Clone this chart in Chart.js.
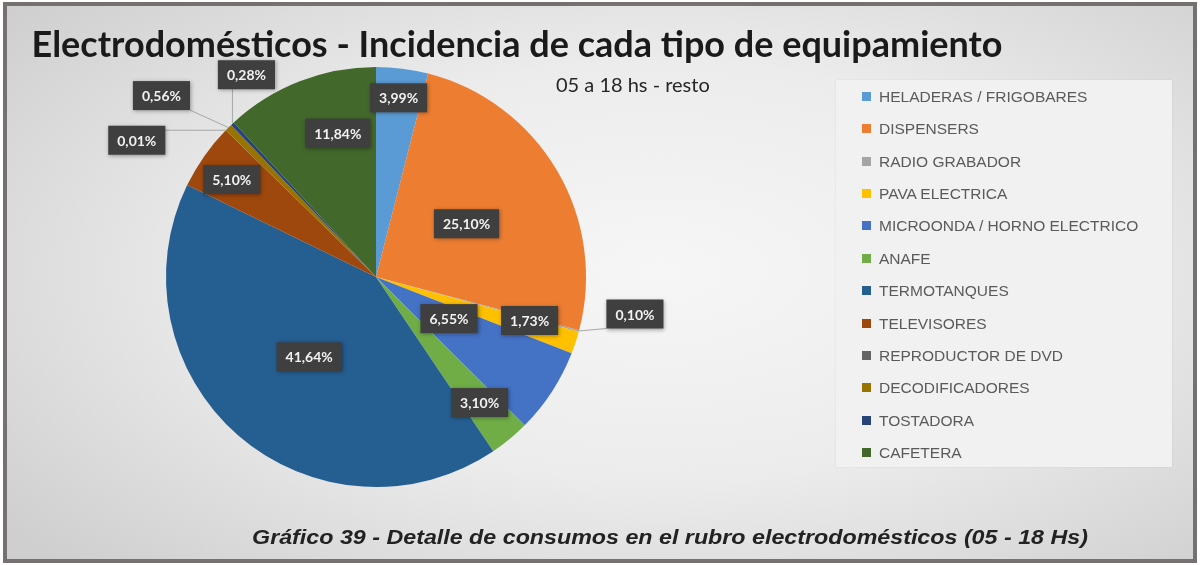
<!DOCTYPE html>
<html>
<head>
<meta charset="utf-8">
<script src="https://cdn.jsdelivr.net/npm/chart.js@4"></script>
<style>
  body { margin: 0; width: 1200px; height: 565px; background: #fff; position: relative; overflow: hidden; }
  #frame {
    position: absolute; left: 3px; top: 2px; width: 1194px; height: 561px;
    box-sizing: border-box; border: 4px solid #767171;
    background: radial-gradient(ellipse 70% 75% at 55% 48%, #f6f6f6 0%, #ececec 50%, #cfcfcf 100%);
  }
  #chart { position: absolute; left: 0; top: 0; }
  .title { position: absolute; left: 0; width: 1034px; text-align: center; top: 21px;
    font: bold 36px Lato, sans-serif; color: #1a1a1a; white-space: nowrap; }
  .subtitle { position: absolute; left: 556px; top: 72px; font: 20px Lato, sans-serif; color: #262626; }
  #legend { position: absolute; left: 836px; top: 80px; width: 336px; height: 387px;
    background: #f1f1f1; box-shadow: 0 0 2px rgba(0,0,0,0.08); }
  .item { position: absolute; left: 26px; height: 18px; font: 15.5px "Liberation Sans", Arial, sans-serif;
    color: #5a5a5a; white-space: nowrap; line-height: 18px; }
  .item i { display: inline-block; width: 9px; height: 9px; margin-right: 8px; vertical-align: 1px; }
  .caption { position: absolute; left: 0; width: 1340px; text-align: center; top: 525px;
    font: italic bold 21px "Liberation Sans", Arial, sans-serif; color: #222; white-space: nowrap;
    transform: scaleX(1.107); transform-origin: 670px 0; }
</style>
</head>
<body>
<div id="frame"></div>
<canvas id="chart" width="1200" height="565"></canvas>
<div class="title">Electrodomésticos - Incidencia de cada tipo de equipamiento</div>
<div class="subtitle">05 a 18 hs - resto</div>
<div id="legend"></div>
<div class="caption">Gráfico 39 - Detalle de consumos en el rubro electrodomésticos (05 - 18 Hs)</div>
<script>
// Datos del gráfico
const categorias = [
    'HELADERAS / FRIGOBARES', 'DISPENSERS', 'RADIO GRABADOR', 'PAVA ELECTRICA',
    'MICROONDA / HORNO ELECTRICO', 'ANAFE', 'TERMOTANQUES', 'TELEVISORES',
    'REPRODUCTOR DE DVD', 'DECODIFICADORES', 'TOSTADORA', 'CAFETERA'
];
const porcentajes = [3.99, 25.10, 0.10, 1.73, 6.55, 3.10, 41.64, 5.10, 0.01, 0.56, 0.28, 11.84];

const colores = ['#5b9bd5', '#ed7d31', '#a5a5a5', '#ffc000', '#4472c4', '#70ad47',
                 '#255e91', '#9e480e', '#636363', '#997300', '#264478', '#43682b'];

// Ubicación de etiquetas: r = fracción del radio (dentro), out = desplazamiento desde el borde (fuera)
const etiquetas = [
    { r: 0.86 }, { r: 0.5 }, { out: [56, -17] }, { r: 0.77, dy: -7 },
    { r: 0.415, dy: -6 }, { r: 0.775 }, { r: 0.485, dy: 3 }, { r: 0.84, dy: 4 },
    { out: [-89, 10] }, { out: [-67, -32] }, { out: [14, -49] }, { r: 0.71, dx: 16, dy: -5 }
];

function formatPct(v) {
    return v.toFixed(2).replace('.', ',') + '%';
}

// Leyenda
const legend = document.getElementById('legend');
categorias.forEach((c, i) => {
    const div = document.createElement('div');
    div.className = 'item';
    div.style.top = (8 + i * 32.36) + 'px';
    div.innerHTML = `<i style="background:${colores[i]}"></i>${c}`;
    legend.appendChild(div);
});

// Etiquetas de datos estilo Excel
const dataLabels = {
    id: 'dataLabels',
    afterDatasetsDraw(chart) {
        const ctx = chart.ctx;
        const arcs = chart.getDatasetMeta(0).data;
        ctx.save();
        ctx.font = 'bold 14px Lato, sans-serif';
        ctx.textAlign = 'center';
        ctx.textBaseline = 'middle';
        arcs.forEach((arc, i) => {
            const p = arc.getProps(['x', 'y', 'startAngle', 'endAngle', 'outerRadius'], true);
            const mid = (p.startAngle + p.endAngle) / 2;
            const cfg = etiquetas[i];
            const txt = formatPct(porcentajes[i]);
            const w = ctx.measureText(txt).width + 18, h = 29;
            let cx, cy, ex, ey;
            if (cfg.out) {
                ex = p.x + Math.cos(mid) * p.outerRadius;
                ey = p.y + Math.sin(mid) * p.outerRadius;
                cx = ex + cfg.out[0];
                cy = ey + cfg.out[1];
                // línea guía hasta el borde del cuadro
                const nx = Math.max(cx - w / 2, Math.min(ex, cx + w / 2));
                const ny = Math.max(cy - h / 2, Math.min(ey, cy + h / 2));
                ctx.strokeStyle = '#a6a6a6';
                ctx.lineWidth = 1;
                ctx.beginPath();
                ctx.moveTo(ex, ey);
                ctx.lineTo(nx, ny);
                ctx.stroke();
            } else {
                cx = p.x + Math.cos(mid) * p.outerRadius * cfg.r + (cfg.dx || 0);
                cy = p.y + Math.sin(mid) * p.outerRadius * cfg.r + (cfg.dy || 0);
            }
            ctx.save();
            ctx.shadowColor = 'rgba(0,0,0,0.35)';
            ctx.shadowBlur = 4;
            ctx.shadowOffsetX = 1;
            ctx.shadowOffsetY = 1;
            ctx.fillStyle = '#3f3f3f';
            ctx.fillRect(cx - w / 2, cy - h / 2, w, h);
            ctx.restore();
            ctx.fillStyle = '#f2f2f2';
            ctx.fillText(txt, cx, cy + 1);
        });
        ctx.restore();
    }
};

new Chart(document.getElementById('chart'), {
    type: 'pie',
    data: {
        labels: categorias,
        datasets: [{
            data: porcentajes,
            backgroundColor: colores,
            borderWidth: 0
        }]
    },
    options: {
        responsive: false,
        animation: false,
        layout: { padding: { left: 166, right: 614, top: 67, bottom: 78 } },
        plugins: { legend: { display: false }, tooltip: { enabled: false } }
    },
    plugins: [dataLabels]
});
</script>
</body>
</html>
